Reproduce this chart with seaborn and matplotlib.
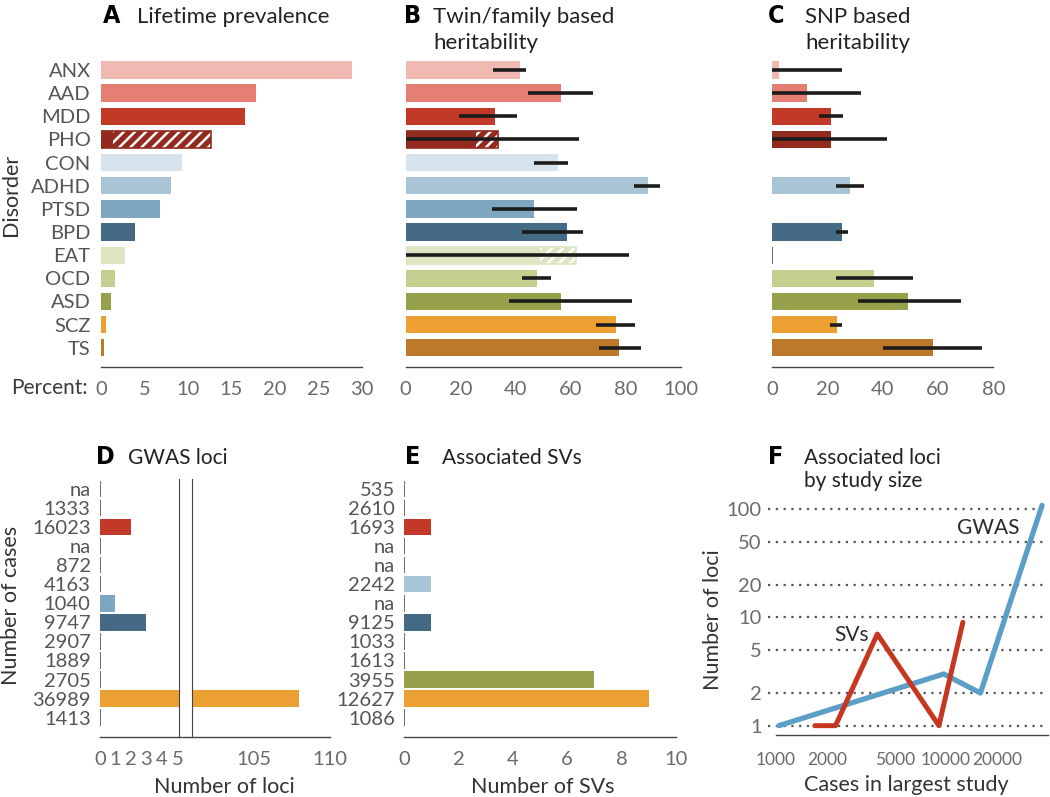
"""
Six-panel psychiatric genetics summary figure (prevalence, heritability, loci).
Rebuilt with seaborn bar/line plots on hand-placed axes.
"""
import numpy as np
import pandas as pd
import matplotlib
matplotlib.use("Agg")
import matplotlib.pyplot as plt
from matplotlib.lines import Line2D
from matplotlib.ticker import FixedLocator, NullLocator
import seaborn as sns

nan = np.nan

# ---------------------------
# data
# ---------------------------
disorders = ["ANX", "AAD", "MDD", "PHO", "CON", "ADHD", "PTSD", "BPD",
             "EAT", "OCD", "ASD", "SCZ", "TS"]
colors = ["#f0b9b1", "#e57f73", "#c23a27", "#922a1d", "#d6e3ec", "#a9c4d4",
          "#7fa6c0", "#446a86", "#dde5c3", "#c5cd8f", "#97a04a", "#eca032",
          "#be782b"]

# A: lifetime prevalence (%), hatched part starts at prevalence_hatch_from
prevalence = [28.9, 17.8, 16.6, 12.6, 9.3, 8.1, 6.8, 3.9, 2.8, 1.6, 1.1, 0.6, 0.3]
prevalence_hatch_from = [nan, nan, nan, 1.4, nan, nan, nan, nan, nan, nan, nan, nan, nan]

# B: twin/family heritability (%)
twin_h2 = [41.4, 56.3, 32.4, 33.6, 55.3, 88.0, 46.4, 58.4, 61.7, 47.5, 56.3, 76.2, 77.3]
twin_lo = [31.6, 44.3, 19.5, 0.0, 46.4, 83.0, 31.3, 42.2, 0.0, 42.3, 37.4, 69.2, 70.1]
twin_hi = [43.5, 68.1, 40.3, 63.0, 59.0, 92.4, 62.3, 64.2, 81.1, 52.6, 82.1, 83.3, 85.4]
twin_hatch_from = [nan, nan, nan, 25.5, nan, nan, nan, nan, 48.9, nan, nan, nan, nan]

# C: SNP heritability (%)
snp_h2 = [2.5, 12.4, 21.1, 21.1, nan, 28.1, nan, 25.2, 0.0, 36.9, 49.0, 23.3, 58.0]
snp_lo = [0.0, 0.0, 17.0, 0.0, nan, 22.9, nan, 22.9, nan, 22.9, 30.9, 21.0, 39.9]
snp_hi = [25.2, 32.2, 25.5, 41.4, nan, 33.1, nan, 27.4, nan, 51.0, 68.3, 25.2, 76.0]

# D: GWAS loci and cases in largest study
gwas_cases = ["na", "1333", "16023", "na", "872", "4163", "1040", "9747",
              "2907", "1889", "2705", "36989", "1413"]
gwas_loci = [0, 0, 2, 0, 0, 0, 1, 3, 0, 0, 0, 108, 0]

# E: associated structural variants and cases
sv_cases = ["535", "2610", "1693", "na", "na", "2242", "na", "9125",
            "1033", "1613", "3955", "12627", "1086"]
sv_count = [0, 0, 1, 0, 0, 1, 0, 1, 0, 0, 7, 9, 0]

W, H = 1050, 797
palette = dict(zip(disorders, colors))
ypos = np.arange(len(disorders))

SPINE = "#444444"
TICK_LBL = "#6a6a6a"
DARK = "#2a2a2a"
TICK_FS = 14.5

sns.set_style("white")
plt.rcParams["font.family"] = ["Lato", "DejaVu Sans"]
plt.rcParams["hatch.linewidth"] = 1.8

fig = plt.figure(figsize=(W / 100, H / 100), dpi=100)


def add_axes_px(left, top, right, bottom):
    return fig.add_axes([left / W, 1 - bottom / H, (right - left) / W, (bottom - top) / H])


def ftext(x, y, s, **kw):
    kw.setdefault("color", DARK)
    return fig.text(x / W, 1 - y / H, s, **kw)


def bars(ax, values, width=0.75):
    df = pd.DataFrame({"disorder": disorders, "value": values}).dropna()
    sns.barplot(data=df, x="value", y="disorder", hue="disorder", order=disorders,
                hue_order=disorders, palette=palette, orient="h", width=width,
                saturation=1, linewidth=0, errorbar=None, legend=False, ax=ax)
    # zero-valued rows are drawn as a thin tick at x=0
    for p in ax.patches:
        if p.get_width() == 0:
            p.set_edgecolor(SPINE)
            p.set_linewidth(1.1)
    ax.set_xlabel("")
    ax.set_ylabel("")


def hatch_part(ax, totals, starts, width=0.75):
    for i, (tot, st) in enumerate(zip(totals, starts)):
        if np.isnan(st):
            continue
        ax.barh(i, tot - st, left=st, height=width, facecolor="none",
                edgecolor="white", hatch="///", linewidth=0)
        ax.barh(i, tot, height=width, fill=False, edgecolor=colors[i], linewidth=1.2)


def errbars(ax, lo, hi):
    lo = np.asarray(lo, float)
    hi = np.asarray(hi, float)
    ok = ~np.isnan(lo)
    ax.hlines(ypos[ok], lo[ok], hi[ok], color="#1c1c1c", linewidth=2.6, zorder=5)


def style_x(ax, pad=5):
    sns.despine(ax=ax, left=True)
    ax.spines["bottom"].set_color(SPINE)
    ax.spines["bottom"].set_linewidth(1.0)
    ax.tick_params(axis="x", length=5, width=1, color=SPINE, labelsize=TICK_FS,
                   labelcolor=TICK_LBL, pad=pad)


# ---------------------------
# top row: A, B, C
# ---------------------------
top_ylim = (12.83, -0.5)

axA = add_axes_px(101, 58.4, 362, 367)
bars(axA, prevalence)
hatch_part(axA, prevalence, prevalence_hatch_from)
axA.set_xlim(0, 30)
axA.set_ylim(*top_ylim)
axA.set_xticks([0, 5, 10, 15, 20, 25, 30])
style_x(axA)
axA.tick_params(axis="y", length=0, pad=7.5, labelsize=TICK_FS, labelcolor="#555555")

axB = add_axes_px(405.7, 58.4, 681.3, 367)
bars(axB, twin_h2)
hatch_part(axB, twin_h2, twin_hatch_from)
errbars(axB, twin_lo, twin_hi)
axB.set_xlim(0, 100)
axB.set_ylim(*top_ylim)
axB.set_xticks([0, 20, 40, 60, 80, 100])
style_x(axB)
axB.set_yticks([])

axC = add_axes_px(772.3, 58.4, 993.3, 367)
bars(axC, snp_h2)
errbars(axC, snp_lo, snp_hi)
axC.set_xlim(0, 80)
axC.set_ylim(*top_ylim)
axC.set_xticks([0, 20, 40, 60, 80])
style_x(axC)
axC.set_yticks([])

# ---------------------------
# bottom row: D (broken axis), E, F
# ---------------------------
bot_ylim = (13.0, -0.5)

axD1 = add_axes_px(100, 479.5, 179.3, 736.7)
axD2 = add_axes_px(191.7, 479.5, 330, 736.7)
for ax in (axD1, axD2):
    bars(ax, gwas_loci, width=0.86)
    ax.set_ylim(*bot_ylim)
    style_x(ax)
axD1.set_xlim(0, 5.13)
axD1.set_xticks([0, 1, 2, 3, 4, 5])
axD1.set_yticks(ypos)
axD1.set_yticklabels(gwas_cases)
axD1.tick_params(axis="y", length=0, pad=6.7, labelsize=TICK_FS, labelcolor="#555555")
axD1.spines["right"].set_visible(True)
axD1.spines["right"].set_color(SPINE)
axD2.set_xlim(100.94, 110)
axD2.set_xticks([105, 110])
axD2.set_yticks([])
axD2.spines["left"].set_visible(True)
axD2.spines["left"].set_color(SPINE)
# bottom spine runs through the break
fig.add_artist(Line2D([179.3 / W, 191.7 / W], [1 - 736.7 / H] * 2,
                      color=SPINE, linewidth=1.0))

axE = add_axes_px(404, 479.5, 676, 736.7)
bars(axE, sv_count, width=0.86)
axE.set_xlim(0, 10)
axE.set_ylim(*bot_ylim)
axE.set_xticks([0, 2, 4, 6, 8, 10])
style_x(axE)
axE.set_yticks(ypos)
axE.set_yticklabels(sv_cases)
axE.tick_params(axis="y", length=0, pad=6.5, labelsize=TICK_FS, labelcolor="#555555")

# F: loci vs. size of largest study (from D and E)
gwas_pts = sorted((int(c), n) for c, n in zip(gwas_cases, gwas_loci) if n > 0)
sv_pts = sorted((int(c), n) for c, n in zip(sv_cases, sv_count) if n > 0)
df_gwas = pd.DataFrame(gwas_pts, columns=["cases", "loci"])
df_sv = pd.DataFrame(sv_pts, columns=["cases", "loci"])

axF = add_axes_px(768, 500, 1048, 735)
sns.lineplot(data=df_gwas, x="cases", y="loci", color="#5b9fc6", linewidth=3.8,
             estimator=None, sort=True, ax=axF, solid_capstyle="round")
sns.lineplot(data=df_sv, x="cases", y="loci", color="#c5381f", linewidth=3.6,
             estimator=None, sort=True, ax=axF, solid_capstyle="round")
axF.set_xscale("log")
axF.set_yscale("log")
axF.set_xlim(897, 40100)
axF.set_ylim(0.82, 121)
yt = [1, 2, 5, 10, 20, 50, 100]
axF.yaxis.set_major_locator(FixedLocator(yt))
axF.yaxis.set_minor_locator(NullLocator())
axF.set_yticklabels([str(v) for v in yt])
xt = [1000, 2000, 5000, 10000, 20000]
axF.xaxis.set_major_locator(FixedLocator(xt))
axF.xaxis.set_minor_locator(NullLocator())
axF.set_xticklabels([str(v) for v in xt])
style_x(axF, pad=7)
axF.tick_params(axis="x", labelsize=12.5)
axF.spines["bottom"].set_bounds(1000, 40100)
axF.tick_params(axis="y", length=0, pad=4.5, labelsize=TICK_FS, labelcolor=TICK_LBL)
axF.yaxis.grid(True, linestyle=(0, (1, 2.5)), color="#555555", linewidth=1.6)
axF.set_axisbelow(True)
axF.set_xlabel("")
axF.set_ylabel("")
axF.text(17740, 66.7, "GWAS", ha="center", va="center", fontsize=15, color=DARK)
axF.text(3530, 6.9, "SVs", ha="right", va="center", fontsize=15, color=DARK)

# ---------------------------
# panel letters, titles, axis labels
# ---------------------------
LET = dict(fontsize=18, fontweight="bold", fontstretch="condensed", color="black",
           va="baseline", family=["DejaVu Sans"])
TT = dict(fontsize=16, va="baseline", color="#222222")
TB = dict(fontsize=15, va="baseline", color="#222222")

ftext(103, 23, "A", **LET)
ftext(137, 23, "Lifetime prevalence", **TT)
ftext(404, 23, "B", **LET)
ftext(433, 23, "Twin/family based", **TT)
ftext(433, 49.3, "heritability", **TT)
ftext(768, 23, "C", **LET)
ftext(805, 23, "SNP based", **TT)
ftext(805, 49.3, "heritability", **TT)

ftext(96, 463.5, "D", **LET)
ftext(128, 463.5, "GWAS loci", **TB)
ftext(405, 464, "E", **LET)
ftext(442, 464, "Associated SVs", **TB)
ftext(768, 463.5, "F", **LET)
ftext(804, 463.5, "Associated loci", **TB)
ftext(804, 487, "by study size", **TB)

ftext(11, 388, "Percent:", fontsize=TICK_FS + 0.5, va="center", color="#3a3a3a")
ftext(1, 195, "Disorder", fontsize=15.5, rotation=90, ha="left", va="center", color="#333333")
ftext(1, 605, "Number of cases", fontsize=15.5, rotation=90, ha="left", va="center", color="#333333")
ftext(224, 786.7, "Number of loci", fontsize=15.5, ha="center", va="center", color="#333333")
ftext(543, 786.7, "Number of SVs", fontsize=15.5, ha="center", va="center", color="#333333")
ftext(906.7, 791, "Cases in largest study", fontsize=15.5, ha="center", va="baseline", color="#333333")
ftext(703, 620, "Number of loci", fontsize=15.5, rotation=90, ha="left", va="center", color="#333333")

fig.savefig("out.png", dpi=100)
